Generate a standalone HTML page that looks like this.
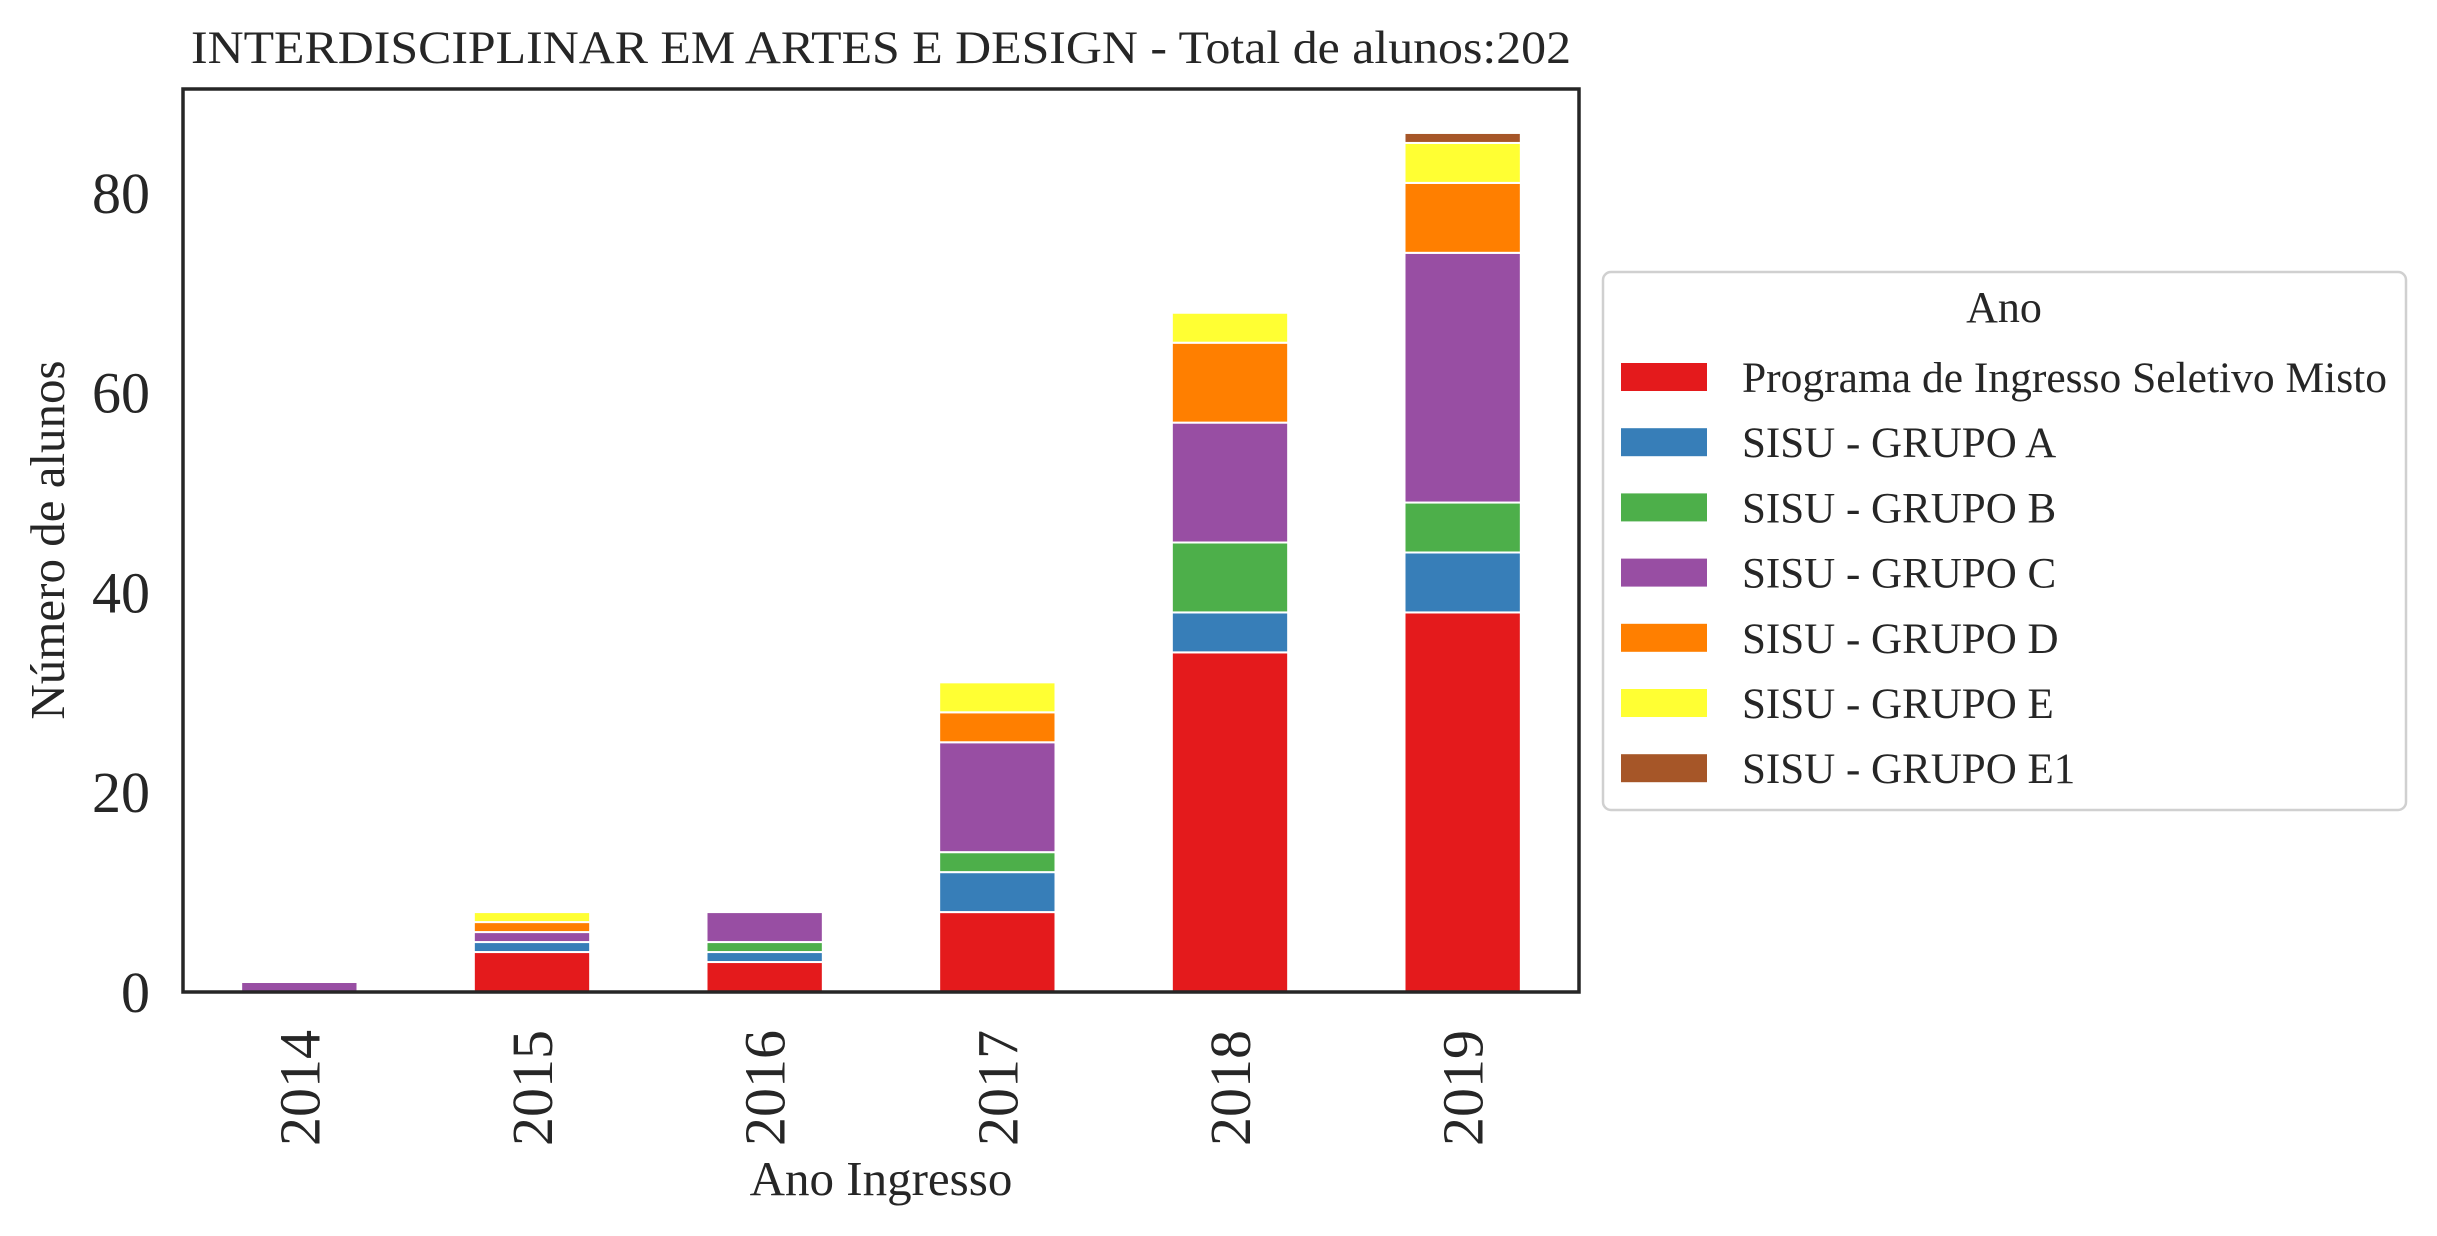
<!DOCTYPE html>
<html><head><meta charset="utf-8"><style>
html,body{margin:0;padding:0;background:#fff}
svg{display:block;font-family:"Liberation Serif","DejaVu Serif",serif;fill:#262626}
</style></head><body>
<svg id="chart" width="2437" height="1236" viewBox="0 0 2437 1236" xmlns="http://www.w3.org/2000/svg">
<text x="881" y="63" font-size="47" text-anchor="middle" textLength="1380" lengthAdjust="spacingAndGlyphs">INTERDISCIPLINAR EM ARTES E DESIGN - Total de alunos:202</text>
<g id="bars"></g>
<g id="yticks"></g>
<g id="xticks"></g>
<rect x="183" y="89" width="1396" height="903" fill="none" stroke="#262626" stroke-width="3.5"/>
<text transform="translate(64,540) rotate(-90)" font-size="49" text-anchor="middle">Número de alunos</text>
<text x="881" y="1195" font-size="49" text-anchor="middle">Ano Ingresso</text>
<g id="legend">
<rect x="1603" y="272" width="803" height="538" rx="8" fill="#fff" stroke="#d0d0d0" stroke-width="2.5"/>
<text x="2004" y="322" font-size="44" text-anchor="middle">Ano</text>
</g>
</svg>
<script>
const categories = ["2014","2015","2016","2017","2018","2019"];
const seriesNames = ["Programa de Ingresso Seletivo Misto","SISU - GRUPO A","SISU - GRUPO B","SISU - GRUPO C","SISU - GRUPO D","SISU - GRUPO E","SISU - GRUPO E1"];
const seriesColors = ["#e41a1c","#377eb8","#4daf4a","#984ea3","#ff7f00","#ffff33","#a65628"];
const programa = [0,4,3,8,34,38];
const grupoA = [0,1,1,4,4,6];
const grupoB = [0,0,1,2,7,5];
const grupoC = [1,1,3,11,12,25];
const grupoD = [0,1,0,3,8,7];
const grupoE = [0,1,0,3,3,4];
const grupoE1 = [0,0,0,0,0,1];
const yTicks = [0,20,40,60,80];

const series = [programa,grupoA,grupoB,grupoC,grupoD,grupoE,grupoE1];
const NS = "http://www.w3.org/2000/svg";
const X0 = 183, X1 = 1579, Y0 = 992, Y1 = 89, YMAX = 90.4;
function xScale(i){ return X0 + (i + 0.5) * (X1 - X0) / categories.length; }
function yScale(v){ return Y0 - v * (Y0 - Y1) / YMAX; }
const bw = 0.5 * (X1 - X0) / categories.length;

const gb = document.getElementById('bars');
categories.forEach((c, i) => {
  let base = 0;
  series.forEach((s, k) => {
    const v = s[i];
    if (v > 0) {
      const r = document.createElementNS(NS, 'rect');
      
      
      r.setAttribute('x', xScale(i) - bw / 2);
      r.setAttribute('y', yScale(base + v));
      r.setAttribute('width', bw);
      r.setAttribute('height', yScale(base) - yScale(base + v));
      r.setAttribute('fill', seriesColors[k]);
      r.setAttribute('stroke', '#fff');
      r.setAttribute('stroke-width', '2');
      gb.appendChild(r);
    }
    base += v;
  });
});

const gy = document.getElementById('yticks');
yTicks.forEach(t => {
  const tx = document.createElementNS(NS, 'text');
  
  
  tx.setAttribute('x', 150);
  tx.setAttribute('y', yScale(t) + 20);
  tx.setAttribute('font-size', '58');
  tx.setAttribute('text-anchor', 'end');
  tx.textContent = t;
  gy.appendChild(tx);
});

const gx = document.getElementById('xticks');
categories.forEach((c, i) => {
  const tx = document.createElementNS(NS, 'text');
  
  
  tx.setAttribute('transform', 'translate(' + (xScale(i) + 20) + ',1030) rotate(-90)');
  tx.setAttribute('font-size', '58');
  tx.setAttribute('text-anchor', 'end');
  tx.textContent = c;
  gx.appendChild(tx);
});

const gl = document.getElementById('legend');
seriesNames.forEach((n, k) => {
  const cy = 377 + k * 65.2;
  const r = document.createElementNS(NS, 'rect');
  
  
  r.setAttribute('x', 1621); r.setAttribute('y', cy - 14);
  r.setAttribute('width', 86); r.setAttribute('height', 28);
  r.setAttribute('fill', seriesColors[k]);
  gl.appendChild(r);
  const t = document.createElementNS(NS, 'text');
  
  
  t.setAttribute('x', 1742); t.setAttribute('y', cy + 15);
  t.setAttribute('font-size', '43');
  if (k === 0) { t.setAttribute('textLength', '645'); t.setAttribute('lengthAdjust', 'spacingAndGlyphs'); }
  t.textContent = n;
  gl.appendChild(t);
});
</script>
</body></html>
